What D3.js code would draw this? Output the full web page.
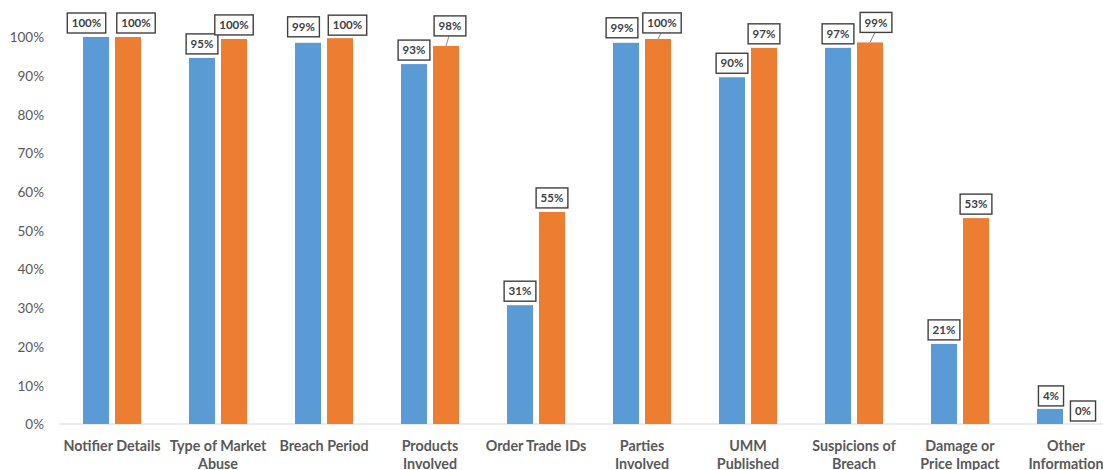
<!DOCTYPE html>
<html>
<head>
<meta charset="utf-8">
<script src="https://cdn.jsdelivr.net/npm/d3@7"></script>
<style>
  html, body { margin: 0; padding: 0; background: #fff; }
  svg { display: block; }
</style>
</head>
<body>
<svg id="chart" width="1103" height="470"></svg>
<script>
// Categories (line breaks mark where the axis label wraps)
const categories = [
  "Notifier Details",
  "Type of Market\nAbuse",
  "Breach Period",
  "Products\nInvolved",
  "Order Trade IDs",
  "Parties\nInvolved",
  "UMM\nPublished",
  "Suspicions of\nBreach",
  "Damage or\nPrice Impact",
  "Other\nInformation"
];

// Share of notifications containing each item (fractions)
const seriesA = [1.00, 0.946, 0.985, 0.93, 0.307, 0.985, 0.896, 0.972, 0.207, 0.039];
const seriesB = [1.00, 0.995, 0.997, 0.977, 0.548, 0.995, 0.972, 0.986, 0.532, 0.0];

const yTicks = [0, 0.1, 0.2, 0.3, 0.4, 0.5, 0.6, 0.7, 0.8, 0.9, 1.0];

// Label placement nudges (dx, dy in px) and whether a leader line is drawn
const nudgeA = [[-9.5, 0, 0], [0, 0, 0], [-4.5, -2, 0], [0, 0, 0], [0, 0, 0],
                [-4, -1, 0], [0, 0, 0], [0, 0, 0], [0, 0, 0], [1, 1, 0]];
const nudgeB = [[8, 0, 0], [0, 0, 0], [7.5, 1, 0], [4, -6, 1], [0, 0, 0],
                [4, -2, 1], [0, 0, 0], [6, -6, 1], [0, 0, 0], [1, 1, 0]];

const colors = ["#5b9bd5", "#ed7d31"];

const svg = d3.select("#chart");
const plot = { left: 59, right: 1119, top: 37, bottom: 424 };

const x0 = d3.scaleBand()
  .domain(categories)
  .range([plot.left, plot.right])
  .padding(0);

const bw = x0.bandwidth();
const x1 = d3.scaleBand()
  .domain([0, 1])
  .range([24, bw - 24])
  .paddingInner(0.1875)
  .paddingOuter(0);

const y = d3.scaleLinear().domain([0, 1]).range([plot.bottom, plot.top]);
const fmt = d3.format(".0%");

// Y axis labels
const yAxis = d3.axisLeft(y).tickValues(yTicks).tickFormat(fmt).tickSize(0).tickPadding(0);
const yg = svg.append("g")
  .attr("transform", `translate(44,0)`)
  .call(yAxis);
yg.select(".domain").remove();
yg.selectAll("text")
  .attr("font-family", "Lato, 'Open Sans', sans-serif")
  .attr("font-size", "13.5px")
  .attr("fill", "#595959")
  .attr("dy", "0.35em");

// Baseline
svg.append("line")
  .attr("x1", plot.left).attr("x2", plot.right)
  .attr("y1", y(0)).attr("y2", y(0))
  .attr("stroke", "#d9d9d9").attr("stroke-width", 1);

// Bars
const rows = categories.map((c, i) => ({ c, i, vals: [seriesA[i], seriesB[i]] }));
const groups = svg.append("g").selectAll("g")
  .data(rows).join("g")
  .attr("transform", d => `translate(${x0(d.c)},0)`);

groups.selectAll("rect")
  .data(d => d.vals.map((v, s) => ({ v, s })))
  .join("rect")
  .attr("x", d => x1(d.s))
  .attr("width", x1.bandwidth())
  .attr("y", d => y(d.v))
  .attr("height", d => y(0) - y(d.v))
  .attr("fill", d => colors[d.s]);

// Category labels
const xg = svg.append("g");
categories.forEach(c => {
  const lines = c.split("\n");
  const t = xg.append("text")
    .attr("x", x0(c) + bw / 2)
    .attr("y", 451)
    .attr("text-anchor", "middle")
    .attr("font-family", "Lato, 'Open Sans', sans-serif")
    .attr("font-weight", "bold")
    .attr("font-size", "14.3px")
    .attr("fill", "#595959");
  lines.forEach((ln, k) => {
    t.append("tspan")
      .attr("x", x0(c) + bw / 2)
      .attr("dy", k === 0 ? 0 : 18)
      .text(ln);
  });
});

// Data labels in boxed callouts
const labels = svg.append("g");
rows.forEach(r => {
  [0, 1].forEach(s => {
    const v = r.vals[s];
    const nd = (s === 0 ? nudgeA : nudgeB)[r.i];
    const cx = x0(r.c) + x1(s) + x1.bandwidth() / 2;
    const top = y(v);
    const bx = cx + nd[0];
    const bottom = top - 4 + nd[1];
    const g = labels.append("g");
    const txt = g.append("text")
      .attr("x", bx)
      .attr("y", bottom - 10)
      .attr("dy", "0.36em")
      .attr("text-anchor", "middle")
      .attr("font-family", "Lato, 'Open Sans', sans-serif")
      .attr("font-weight", "bold")
      .attr("font-size", "11.5px")
      .attr("fill", "#404040")
      .text(fmt(v));
    const w = txt.node().getComputedTextLength() + 9;
    g.insert("rect", "text")
      .attr("x", bx - w / 2)
      .attr("y", bottom - 20)
      .attr("width", w)
      .attr("height", 20)
      .attr("fill", "#fff")
      .attr("stroke", "#404040")
      .attr("stroke-width", 1.4);
    if (nd[2]) {
      labels.insert("line", ":first-child")
        .attr("x1", bx - 1).attr("y1", bottom)
        .attr("x2", cx).attr("y2", top)
        .attr("stroke", "#8c8c8c").attr("stroke-width", 1);
    }
  });
});
</script>
</body>
</html>
